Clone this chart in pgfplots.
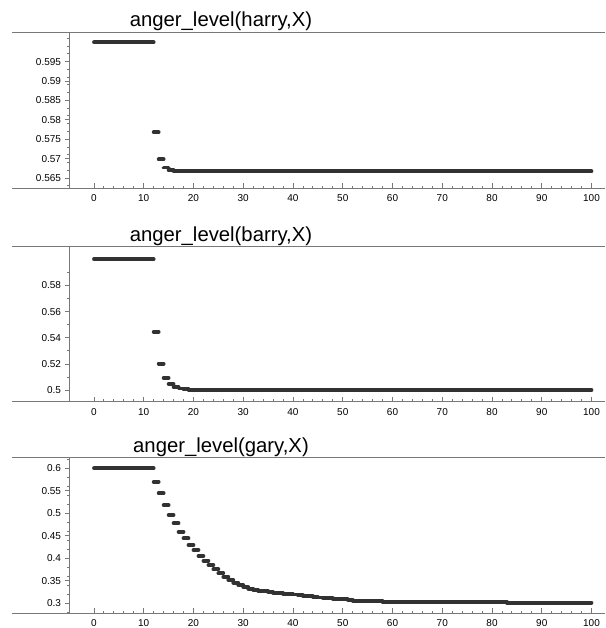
\documentclass[border=0pt]{standalone}
\usepackage{fontspec}
\setmainfont{Liberation Sans}
\usepackage{pgfplots}
\pgfplotsset{compat=1.18}
\definecolor{framecol}{RGB}{120,120,120}
\definecolor{datacol}{RGB}{50,50,50}
\pgfplotsset{
  angerpanel/.style={
    scale only axis,
    width=535.5pt,
    anchor=south west,
    xmin=-4.92, xmax=102.71,
    axis x line*=bottom, axis y line*=left,
    axis line style={draw=none},
    clip=false,
    xtick={0,10,...,100},
    minor x tick num=4,
    xtick align=inside,
    ytick align=outside,
    major tick length=5pt,
    minor tick length=2.5pt,
    every tick/.style={framecol, line width=0.9pt},
    tick label style={font=\fontsize{10}{12}\selectfont, text=black},
    /pgf/number format/assume math mode=true,
    yticklabel style={/pgf/number format/fixed, /pgf/number format/precision=3},
    xticklabel style={yshift=-3pt},
  },
  steps/.style={jump mark left, datacol, line width=3.8pt, line cap=round, no markers},
}
\newcommand{\frameit}{%
  \draw[framecol, line width=1.3pt] ([xshift=-57.5pt]rel axis cs:0,1) -- (rel axis cs:1,1);
  \draw[framecol, line width=1.3pt] ([xshift=-57.5pt]rel axis cs:0,0) -- (rel axis cs:1,0);
  \draw[framecol, line width=1.3pt] (rel axis cs:0,0) -- (rel axis cs:0,1);
}
\begin{document}
\begin{tikzpicture}[x=1pt,y=1pt]
\useasboundingbox (0,0) rectangle (605,628);

% ---------- harry ----------
\begin{axis}[angerpanel, at={(69.5pt,439.7pt)}, height=156pt,
  ymin=0.56234, ymax=0.60258,
  ytick={0.565,0.57,0.575,0.58,0.585,0.59,0.595},
  minor ytick={0.563,0.567,0.569,0.571,0.573,0.577,0.579,0.581,0.583,0.587,0.589,0.591,0.593,0.597,0.599,0.601},
]
\frameit
\addplot[steps] coordinates {
 (0,0.6) (12,0.5768) (13,0.5698) (14,0.5677) (15,0.5670) (16,0.5668) (17,0.5667) (100,0.5667)
};
\end{axis}

% ---------- barry ----------
\begin{axis}[angerpanel, at={(69.5pt,226.3pt)}, height=155.4pt,
  ymin=0.49128, ymax=0.60984,
  ytick={0.5,0.52,0.54,0.56,0.58},
  minor ytick={0.51,0.53,0.55,0.57,0.59},
]
\frameit
\addplot[steps] coordinates {
 (0,0.6) (12,0.5446) (13,0.5203) (14,0.5094) (15,0.5048) (16,0.5024) (17,0.5014)
 (18,0.5008) (19,0.5004) (20,0.5002) (100,0.5001)
};
\end{axis}

% ---------- gary ----------
\begin{axis}[angerpanel, at={(69.5pt,14.7pt)}, height=155.6pt,
  ymin=0.27778, ymax=0.62356,
  ytick={0.3,0.35,0.4,0.45,0.5,0.55,0.6},
  minor ytick={0.28,0.32,0.34,0.36,0.38,0.42,0.44,0.46,0.48,0.52,0.54,0.56,0.58,0.62},
]
\frameit
\addplot[steps] coordinates {
 (0,0.6) (12,0.570) (13,0.5444) (14,0.518) (15,0.4962) (16,0.4778) (17,0.459)
 (18,0.4444) (19,0.4296) (20,0.4185) (21,0.405) (22,0.3947) (23,0.385) (24,0.3755)
 (25,0.3667) (26,0.359) (27,0.3518) (28,0.3458) (29,0.3407) (30,0.3360) (31,0.3325)
 (32,0.3300) (33,0.3280) (34,0.3265) (35,0.3250) (36,0.3235) (37,0.3225) (38,0.3215)
 (39,0.3205) (40,0.3195) (41,0.3180) (42,0.3165) (43,0.3155) (44,0.3140) (45,0.3130)
 (46,0.3120) (47,0.3110) (48,0.3100) (49,0.3095) (50,0.3090) (51,0.3080) (52,0.3060)
 (53,0.3058) (54,0.3055) (55,0.3052) (56,0.3050) (57,0.3050) (58,0.3035) (83,0.3012) (100,0.3012)
};
\end{axis}

% ---------- titles ----------
\node[anchor=base, inner sep=0pt, font=\fontsize{20.3}{24}\selectfont] at (221,601.3) {anger\_level(harry,X)};
\node[anchor=base, inner sep=0pt, font=\fontsize{20.3}{24}\selectfont] at (221,386.3) {anger\_level(barry,X)};
\node[anchor=base, inner sep=0pt, font=\fontsize{20.3}{24}\selectfont] at (221,175.7) {anger\_level(gary,X)};
\end{tikzpicture}
\end{document}
